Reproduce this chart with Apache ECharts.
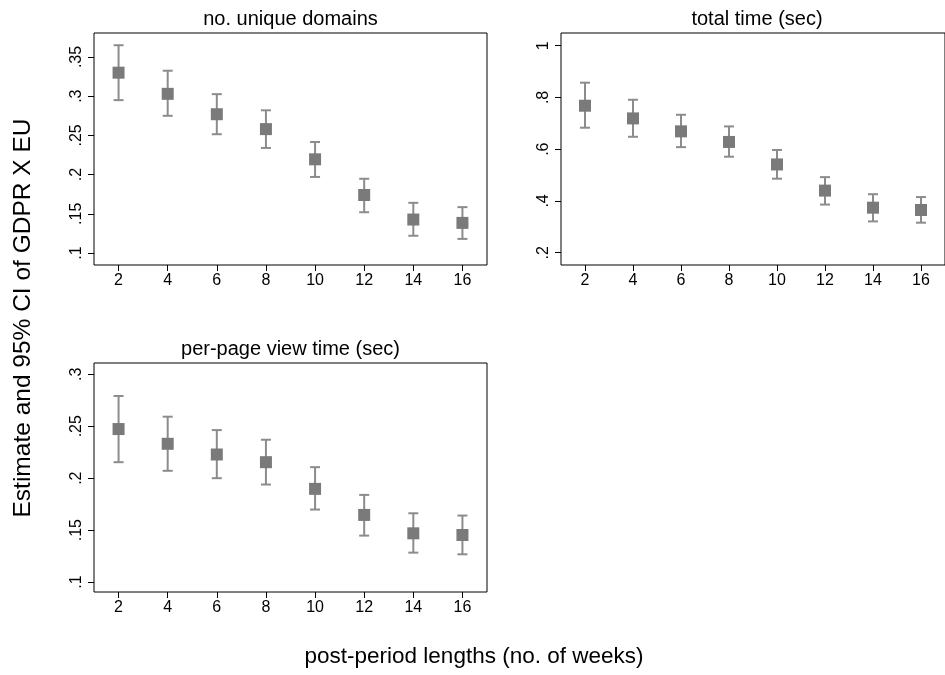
<!DOCTYPE html>
<html>
<head>
<meta charset="utf-8">
<script src="https://cdn.jsdelivr.net/npm/echarts@6/dist/echarts.min.js"></script>
<style>
  html, body { margin: 0; padding: 0; background: #fff; }
  #chart { width: 945px; height: 675px; }
</style>
</head>
<body>
<div id="chart"></div>
<script>
  // weeks in the post period
  const weeks = [2, 4, 6, 8, 10, 12, 14, 16]

  // no. unique domains
  const domainsEst = [0.330, 0.303, 0.277, 0.258, 0.2195, 0.174, 0.1427, 0.1384]
  const domainsLo = [0.295, 0.275, 0.2515, 0.234, 0.197, 0.152, 0.122, 0.118]
  const domainsHi = [0.365, 0.3325, 0.3026, 0.282, 0.2416, 0.1947, 0.164, 0.1585]
  const domainsTicks = [0.1, 0.15, 0.2, 0.25, 0.3, 0.35]

  // total time (sec)
  const totalEst = [0.768, 0.719, 0.669, 0.628, 0.541, 0.440, 0.374, 0.365]
  const totalLo = [0.683, 0.648, 0.608, 0.571, 0.486, 0.386, 0.321, 0.316]
  const totalHi = [0.857, 0.791, 0.733, 0.688, 0.597, 0.492, 0.426, 0.415]
  const totalTicks = [0.2, 0.4, 0.6, 0.8, 1]

  // per-page view time (sec)
  const perPageEst = [0.2473, 0.2331, 0.2228, 0.2154, 0.1897, 0.1646, 0.1469, 0.1453]
  const perPageLo = [0.2154, 0.2071, 0.200, 0.1939, 0.1698, 0.1447, 0.1283, 0.1267]
  const perPageHi = [0.2791, 0.2592, 0.2463, 0.237, 0.2106, 0.1839, 0.1662, 0.164]
  const perPageTicks = [0.1, 0.15, 0.2, 0.25, 0.3]

  const FONT = 'Liberation Sans'
  const GREY = '#7a7a7a'

  const panels = [
    { title: 'no. unique domains', est: domainsEst, lo: domainsLo, hi: domainsHi, ticks: domainsTicks,
      grid: { left: 94, top: 33, width: 393, height: 232 }, ymin: 0.0847, ymax: 0.3806 },
    { title: 'total time (sec)', est: totalEst, lo: totalLo, hi: totalHi, ticks: totalTicks,
      grid: { left: 561, top: 33, width: 392, height: 232 }, ymin: 0.1525, ymax: 1.049 },
    { title: 'per-page view time (sec)', est: perPageEst, lo: perPageLo, hi: perPageHi, ticks: perPageTicks,
      grid: { left: 94, top: 363, width: 393, height: 229 }, ymin: 0.0904, ymax: 0.3109 }
  ]

  function fmt(v) {
    return String(+v.toFixed(2)).replace(/^0\./, '.')
  }

  const option = {
    backgroundColor: '#fff',
    animation: false,
    title: [],
    grid: [],
    xAxis: [],
    yAxis: [],
    series: [],
    graphic: [
      {
        type: 'text', x: 23, y: 318, rotation: Math.PI / 2,
        style: {
          text: 'Estimate and 95% CI of GDPR X EU', font: '24.5px "Liberation Sans"', fill: '#000',
          align: 'center', verticalAlign: 'middle'
        }
      },
      {
        type: 'text', x: 474, y: 657,
        style: {
          text: 'post-period lengths (no. of weeks)', font: '22.5px "Liberation Sans"', fill: '#000',
          align: 'center', verticalAlign: 'middle'
        }
      }
    ]
  }

  panels.forEach((p, i) => {
    option.title.push({
      text: p.title,
      left: p.grid.left + p.grid.width / 2,
      top: p.grid.top - 24,
      textAlign: 'center',
      padding: 0,
      textStyle: { fontFamily: FONT, fontSize: 20, fontWeight: 'normal', color: '#000' }
    })
    option.grid.push(Object.assign({ show: true, borderColor: '#000', borderWidth: 1, containLabel: false }, p.grid))
    option.xAxis.push({
      gridIndex: i, type: 'value', min: 1, max: 17,
      axisLine: { show: false },
      splitLine: { show: false },
      axisTick: { show: true, length: 6, customValues: weeks, lineStyle: { color: '#000' } },
      axisLabel: { customValues: weeks, color: '#000', fontFamily: FONT, fontSize: 16, margin: 8 }
    })
    option.yAxis.push({
      gridIndex: i, type: 'value', min: p.ymin, max: p.ymax,
      axisLine: { show: false },
      splitLine: { show: false },
      axisTick: { show: true, length: 6, customValues: p.ticks, lineStyle: { color: '#000' } },
      axisLabel: {
        customValues: p.ticks, rotate: 90, color: '#000', fontFamily: FONT, fontSize: 16, margin: 9,
        formatter: fmt
      }
    })
    option.series.push({
      type: 'custom',
      xAxisIndex: i, yAxisIndex: i,
      data: weeks.map((w, k) => [w, p.lo[k], p.hi[k]]),
      renderItem: function (params, api) {
        const lo = api.coord([api.value(0), api.value(1)])
        const hi = api.coord([api.value(0), api.value(2)])
        const cap = 5
        const st = { stroke: '#8c8c8c', lineWidth: 2 }
        return {
          type: 'group',
          children: [
            { type: 'line', shape: { x1: lo[0], y1: lo[1], x2: hi[0], y2: hi[1] }, style: st },
            { type: 'line', shape: { x1: lo[0] - cap, y1: lo[1], x2: lo[0] + cap, y2: lo[1] }, style: st },
            { type: 'line', shape: { x1: hi[0] - cap, y1: hi[1], x2: hi[0] + cap, y2: hi[1] }, style: st }
          ]
        }
      },
      z: 2
    })
    option.series.push({
      type: 'scatter',
      xAxisIndex: i, yAxisIndex: i,
      symbol: 'rect', symbolSize: 12,
      itemStyle: { color: GREY, opacity: 1 },
      data: weeks.map((w, k) => [w, p.est[k]]),
      z: 3
    })
  })

  const myChart = echarts.init(document.getElementById('chart'))
  myChart.setOption(option)
</script>
</body>
</html>
